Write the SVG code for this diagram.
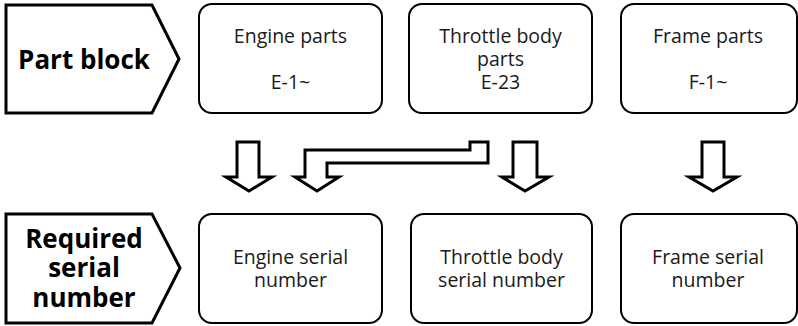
<svg xmlns="http://www.w3.org/2000/svg" width="798" height="326" viewBox="0 0 798 326">
<style>
.bg{fill:#fff}
.head{fill:#fff;stroke:#000;stroke-width:3;stroke-linejoin:miter}
.box{fill:#fff;stroke:#000;stroke-width:2}
.arr{fill:#fff;stroke:#000;stroke-width:3;stroke-linejoin:miter}
.t{font-family:"Open Sans","Noto Sans",sans-serif;font-size:19.5px;fill:#1a1a1a;text-anchor:middle}
.b{font-family:"Open Sans","Noto Sans",sans-serif;font-size:26px;font-weight:bold;fill:#000;text-anchor:middle}
</style>
<rect class="bg" width="798" height="326"/>
<g id="part-block">
<polygon class="head" points="6,5 152,5 179,59 152,113 6,113"/>
<text class="b" x="84" y="69">Part block</text>
</g>
<g id="engine-parts">
<rect class="box" x="199" y="4" width="183" height="109" rx="13"/>
<text class="t" x="290.5" y="43">Engine parts</text>
<text class="t" x="290.5" y="89">E-1~</text>
</g>
<g id="throttle-parts">
<rect class="box" x="409" y="4" width="183" height="109" rx="13"/>
<text class="t" x="500.5" y="43">Throttle body</text>
<text class="t" x="500.5" y="66">parts</text>
<text class="t" x="500.5" y="89">E-23</text>
</g>
<g id="frame-parts">
<rect class="box" x="621" y="4" width="176" height="109" rx="13"/>
<text class="t" x="708" y="43">Frame parts</text>
<text class="t" x="708" y="89">F-1~</text>
</g>
<g id="required-serial">
<polygon class="head" points="6,214 152,214 180,268 152,323 6,323"/>
<text class="b" x="84" y="248">Required</text>
<text class="b" x="84" y="277">serial</text>
<text class="b" x="84" y="307">number</text>
</g>
<g id="engine-serial">
<rect class="box" x="199" y="214" width="183" height="109" rx="13"/>
<text class="t" x="290.5" y="264">Engine serial</text>
<text class="t" x="290.5" y="287">number</text>
</g>
<g id="throttle-serial">
<rect class="box" x="411" y="214" width="181" height="109" rx="13"/>
<text class="t" x="501.5" y="264">Throttle body</text>
<text class="t" x="501.5" y="287">serial number</text>
</g>
<g id="frame-serial">
<rect class="box" x="621" y="214" width="176" height="109" rx="13"/>
<text class="t" x="708" y="264">Frame serial</text>
<text class="t" x="708" y="287">number</text>
</g>
<g id="connectors">
<polygon class="arr" points="237,142 259,142 259,177 272,177 249,191 226,177 237,177"/>
<polygon class="arr" points="488,142 470,142 470,150 305,150 305,177 295,177 317,191 339,177 327,177 327,163 488,163"/>
<polygon class="arr" points="513,142 537,142 537,177 549,177 525,191 502,177 513,177"/>
<polygon class="arr" points="702,142 724,142 724,177 737,177 713,191 689,177 702,177"/>
</g>
</svg>
